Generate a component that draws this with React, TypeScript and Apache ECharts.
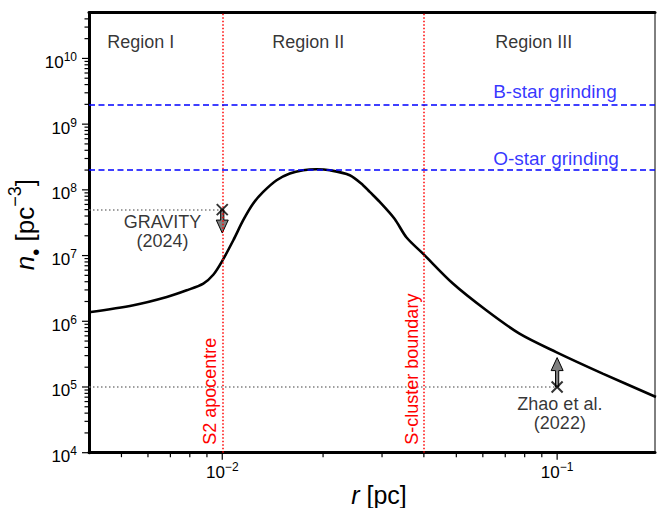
import React, { useEffect, useRef } from "react";
import * as echarts from "echarts";

const FONT = "'Liberation Sans', Arial, Helvetica, sans-serif";

// axis ranges
const X_MIN = 0.004;
const X_MAX = 0.196;
const Y_MIN = 1e4;
const Y_MAX = 5e10;

// tick positions
const X_DECADES = [0.001, 0.01, 0.1];
const X_MAJOR_TICKS = [0.01, 0.1];
const Y_MAJOR_TICKS = [1e4, 1e5, 1e6, 1e7, 1e8, 1e9, 1e10];
const MINOR_STEPS = [2, 3, 4, 5, 6, 7, 8, 9];

// density profile n(r)
const radius = [
  0.004, 0.00543, 0.00683, 0.00783, 0.00878, 0.0094, 0.01, 0.01079, 0.01155,
  0.01237, 0.01325, 0.01453, 0.01591, 0.01744, 0.01912, 0.02095, 0.02403,
  0.02633, 0.02757, 0.02953, 0.03273, 0.03546, 0.03975, 0.04884, 0.06143,
  0.07719, 0.09931, 0.1368, 0.1973,
];
const density = [
  1.37e6, 1.75e6, 2.34e6, 2.96e6, 3.75e6, 5.1e6, 8.3e6, 1.71e7, 3.45e7,
  6.19e7, 9.3e7, 1.4e8, 1.77e8, 1.99e8, 2.06e8, 1.99e8, 1.67e8, 1.18e8,
  9.3e7, 6.55e7, 3.6e7, 1.9e7, 1.07e7, 3.75e6, 1.47e6, 6.49e5, 3.4e5,
  1.6e5, 7.03e4,
];

// vertical boundaries
const BOUNDARY_R = [0.01, 0.04];
const BOUNDARY_LABELS = ["S2 apocentre", "S-cluster boundary"];

// grinding levels
const GRIND_N = [2e9, 2e8];
const GRIND_LABELS = ["B-star grinding", "O-star grinding"];
const GRIND_LABEL_R = [0.0985, 0.0992];
const GRIND_LABEL_N = [3.1e9, 3.0e8];

// observational limits
const OBS_R = [0.01, 0.1];
const OBS_N = [5e7, 1e5];
const OBS_LIMIT_N = [2.2e7, 2.8e5];
const OBS_LABELS = ["GRAVITY\n(2024)", "Zhao et al.\n(2022)"];
const OBS_LABEL_R = [0.00663, 0.1019];
const OBS_LABEL_N = [2.31e7, 3.93e4];

// region labels
const REGION_LABELS = ["Region I", "Region II", "Region III"];
const REGION_LABEL_R = [0.00571, 0.01805, 0.0851];
const REGION_LABEL_N = 1.78e10;

const RED = "#ff0000";
const BLUE = "#0000ff";
const GRAY = "#808080";

function powLabel(v: number): string {
  const lg = Math.log10(v);
  const e = Math.round(lg);
  if (Math.abs(lg - e) > 1e-6) return "";
  const es = e < 0 ? "\u2212" + -e : String(e);
  return "{b|10}{s|" + es + "}";
}

const tickRich = {
  b: { fontSize: 17, lineHeight: 20, verticalAlign: "bottom", fontFamily: FONT, color: "#000" },
  s: { fontSize: 12, lineHeight: 13, verticalAlign: "top", fontFamily: FONT, color: "#000" },
};

export default function App() {
  const ref = useRef<HTMLDivElement>(null);

  useEffect(() => {
    if (!ref.current) return;
    const chart = echarts.init(ref.current, undefined, { renderer: "svg" });

    const tickData: number[][] = [];
    X_MAJOR_TICKS.forEach((v) => tickData.push([v, Y_MIN, 0]));
    X_DECADES.forEach((d) =>
      MINOR_STEPS.forEach((m) => {
        const v = m * d;
        if (v > X_MIN * 1.001 && v < X_MAX * 0.999) tickData.push([v, Y_MIN, 1]);
      })
    );
    Y_MAJOR_TICKS.forEach((v) => tickData.push([X_MIN, v, 2]));
    Y_MAJOR_TICKS.forEach((d) =>
      MINOR_STEPS.forEach((m) => {
        const v = m * d;
        if (v > Y_MIN * 1.001 && v < Y_MAX * 0.999) tickData.push([X_MIN, v, 3]);
      })
    );

    const markLineData: any[] = [];
    BOUNDARY_R.forEach((r, i) =>
      markLineData.push({
        xAxis: r,
        lineStyle: { color: RED, type: [1.5, 2], width: 1.5 },
        label: {
          show: true,
          formatter: BOUNDARY_LABELS[i],
          position: "insideStartTop",
          color: RED,
          fontSize: 18,
          fontFamily: FONT,
          distance: [8, 3],
        },
      })
    );
    GRIND_N.forEach((n) =>
      markLineData.push({
        yAxis: n,
        lineStyle: { color: BLUE, type: [6, 3.5], width: 1.5 },
        label: { show: false },
      })
    );
    OBS_R.forEach((r, i) => {
      const ls = { color: GRAY, type: [1.5, 2.5], width: 1.5 };
      markLineData.push([
        { coord: [X_MIN, OBS_N[i]], lineStyle: ls, label: { show: false } },
        { coord: [r, OBS_N[i]], lineStyle: ls, label: { show: false } },
      ]);
    });

    const textItems: any[] = [];
    REGION_LABELS.forEach((t, i) =>
      textItems.push({ value: [REGION_LABEL_R[i], REGION_LABEL_N], label: { formatter: t, color: "#000", fontSize: 18 } })
    );
    GRIND_LABELS.forEach((t, i) =>
      textItems.push({ value: [GRIND_LABEL_R[i], GRIND_LABEL_N[i]], label: { formatter: t, color: BLUE, fontSize: 19 } })
    );
    OBS_LABELS.forEach((t, i) =>
      textItems.push({ value: [OBS_LABEL_R[i], OBS_LABEL_N[i]], label: { formatter: t, color: "#000", fontSize: 18, lineHeight: 19 } })
    );

    const option: any = {
      animation: false,
      backgroundColor: "#fff",
      grid: {
        left: 89,
        right: 3,
        top: 12.5,
        bottom: 55.3,
        containLabel: false,
        outerBoundsMode: "none",
        show: true,
        borderColor: "#000",
        borderWidth: 1,
        backgroundColor: "transparent",
      },
      xAxis: [
        {
          type: "log",
          logBase: 10,
          min: X_MIN,
          max: X_MAX,
          axisLine: { show: true, lineStyle: { color: "#000", width: 3 } },
          axisTick: { show: false },
          splitLine: { show: false },
          minorTick: { show: false },
          axisLabel: {
            show: true,
            margin: 8,
            formatter: (v: number) => powLabel(v),
            rich: tickRich,
          },
          name: "{i|r}{b| [pc]}",
          nameLocation: "middle",
          nameGap: 30,
          nameMoveOverlap: false,
          nameTextStyle: {
            padding: [0, 0, 0, 14],
            rich: {
              i: { fontSize: 25, fontStyle: "italic", fontFamily: FONT, color: "#000" },
              b: { fontSize: 25, fontFamily: FONT, color: "#000" },
            },
          },
        },
        {
          type: "log",
          logBase: 10,
          position: "top",
          min: X_MIN,
          max: X_MAX,
          axisLine: { show: true, lineStyle: { color: "#000", width: 3 } },
          axisTick: { show: false },
          axisLabel: { show: false },
          splitLine: { show: false },
        },
      ],
      yAxis: {
        type: "log",
        logBase: 10,
        min: Y_MIN,
        max: Y_MAX,
        axisLine: { show: true, lineStyle: { color: "#000", width: 3 } },
        axisTick: { show: false },
        splitLine: { show: false },
        minorTick: { show: false },
        axisLabel: {
          show: true,
          margin: 12,
          padding: [5, 0, 0, 0],
          formatter: (v: number) => powLabel(v),
          rich: tickRich,
        },
        name: "{i|n}{d|\u2022}{b| [pc}{s|\u22123}{b|]}",
        nameLocation: "middle",
        nameGap: 51,
        nameRotate: 90,
        nameMoveOverlap: false,
        nameTextStyle: {
          padding: [0, 0, 0, 16],
          rich: {
            i: { fontSize: 26, lineHeight: 36, verticalAlign: "bottom", fontStyle: "italic", fontFamily: FONT, color: "#000" },
            d: { fontSize: 20, height: 4, verticalAlign: "bottom", fontFamily: FONT, color: "#000" },
            b: { fontSize: 26, lineHeight: 36, verticalAlign: "bottom", fontFamily: FONT, color: "#000" },
            s: { fontSize: 18, verticalAlign: "bottom", padding: [0, 0, 14, 0], fontFamily: FONT, color: "#000" },
          },
        },
      },
      series: [
        {
          type: "line",
          data: [],
          z: 2,
          silent: true,
          markLine: {
            silent: true,
            symbol: ["none", "none"],
            animation: false,
            data: markLineData,
          },
        },
        {
          type: "line",
          z: 3,
          data: radius.map((r, i) => [r, density[i]]),
          showSymbol: false,
          symbol: "none",
          smooth: 0.3,
          lineStyle: { color: "#000", width: 2.6 },
          silent: true,
        },
        {
          type: "custom",
          z: 4,
          clip: false,
          silent: true,
          encode: { x: 0, y: 1 },
          data: OBS_R.map((r, i) => [r, OBS_N[i], OBS_LIMIT_N[i]]),
          renderItem: (params: any, api: any) => {
            const r = api.value(0);
            const s = api.coord([r, api.value(1)]);
            const t = api.coord([r, api.value(2)]);
            const dir = t[1] > s[1] ? 1 : -1;
            const x = s[0];
            const base = t[1] - dir * 13;
            const hw = 1.6;
            const hh = 6;
            return {
              type: "polygon",
              shape: {
                points: [
                  [x - hw, s[1]],
                  [x + hw, s[1]],
                  [x + hw, base],
                  [x + hh, base],
                  [x, t[1]],
                  [x - hh, base],
                  [x - hw, base],
                ],
              },
              style: { fill: "#7f7f7f", stroke: "#000", lineWidth: 1 },
            };
          },
        },
        {
          type: "scatter",
          z: 5,
          silent: true,
          data: OBS_R.map((r, i) => [r, OBS_N[i]]),
          symbol: "path://M0,0L10,10M10,0L0,10",
          symbolSize: 11,
          itemStyle: { color: "none", borderColor: "#000", borderWidth: 2 },
        },
        {
          type: "custom",
          z: 6,
          clip: false,
          silent: true,
          encode: { x: 0, y: 1 },
          data: tickData,
          renderItem: (params: any, api: any) => {
            const kind = api.value(2);
            const p = api.coord([api.value(0), api.value(1)]);
            const major = kind === 0 || kind === 2;
            const len = major ? 7 : 4.5;
            const shape =
              kind < 2
                ? { x1: p[0], y1: p[1], x2: p[0], y2: p[1] + len }
                : { x1: p[0], y1: p[1], x2: p[0] - len, y2: p[1] };
            return { type: "line", shape, style: { stroke: "#000", lineWidth: 1.2 } };
          },
        },
        {
          type: "scatter",
          z: 7,
          silent: true,
          symbolSize: 1,
          itemStyle: { color: "transparent" },
          label: {
            show: true,
            position: "inside",
            fontFamily: FONT,
            align: "center",
            verticalAlign: "middle",
          },
          data: textItems,
        },
      ],
    };

    chart.setOption(option);
    return () => chart.dispose();
  }, []);

  return (
    <div
      ref={ref}
      style={{ position: "fixed", left: 0, top: 0, width: 658, height: 508, background: "#fff" }}
    />
  );
}
